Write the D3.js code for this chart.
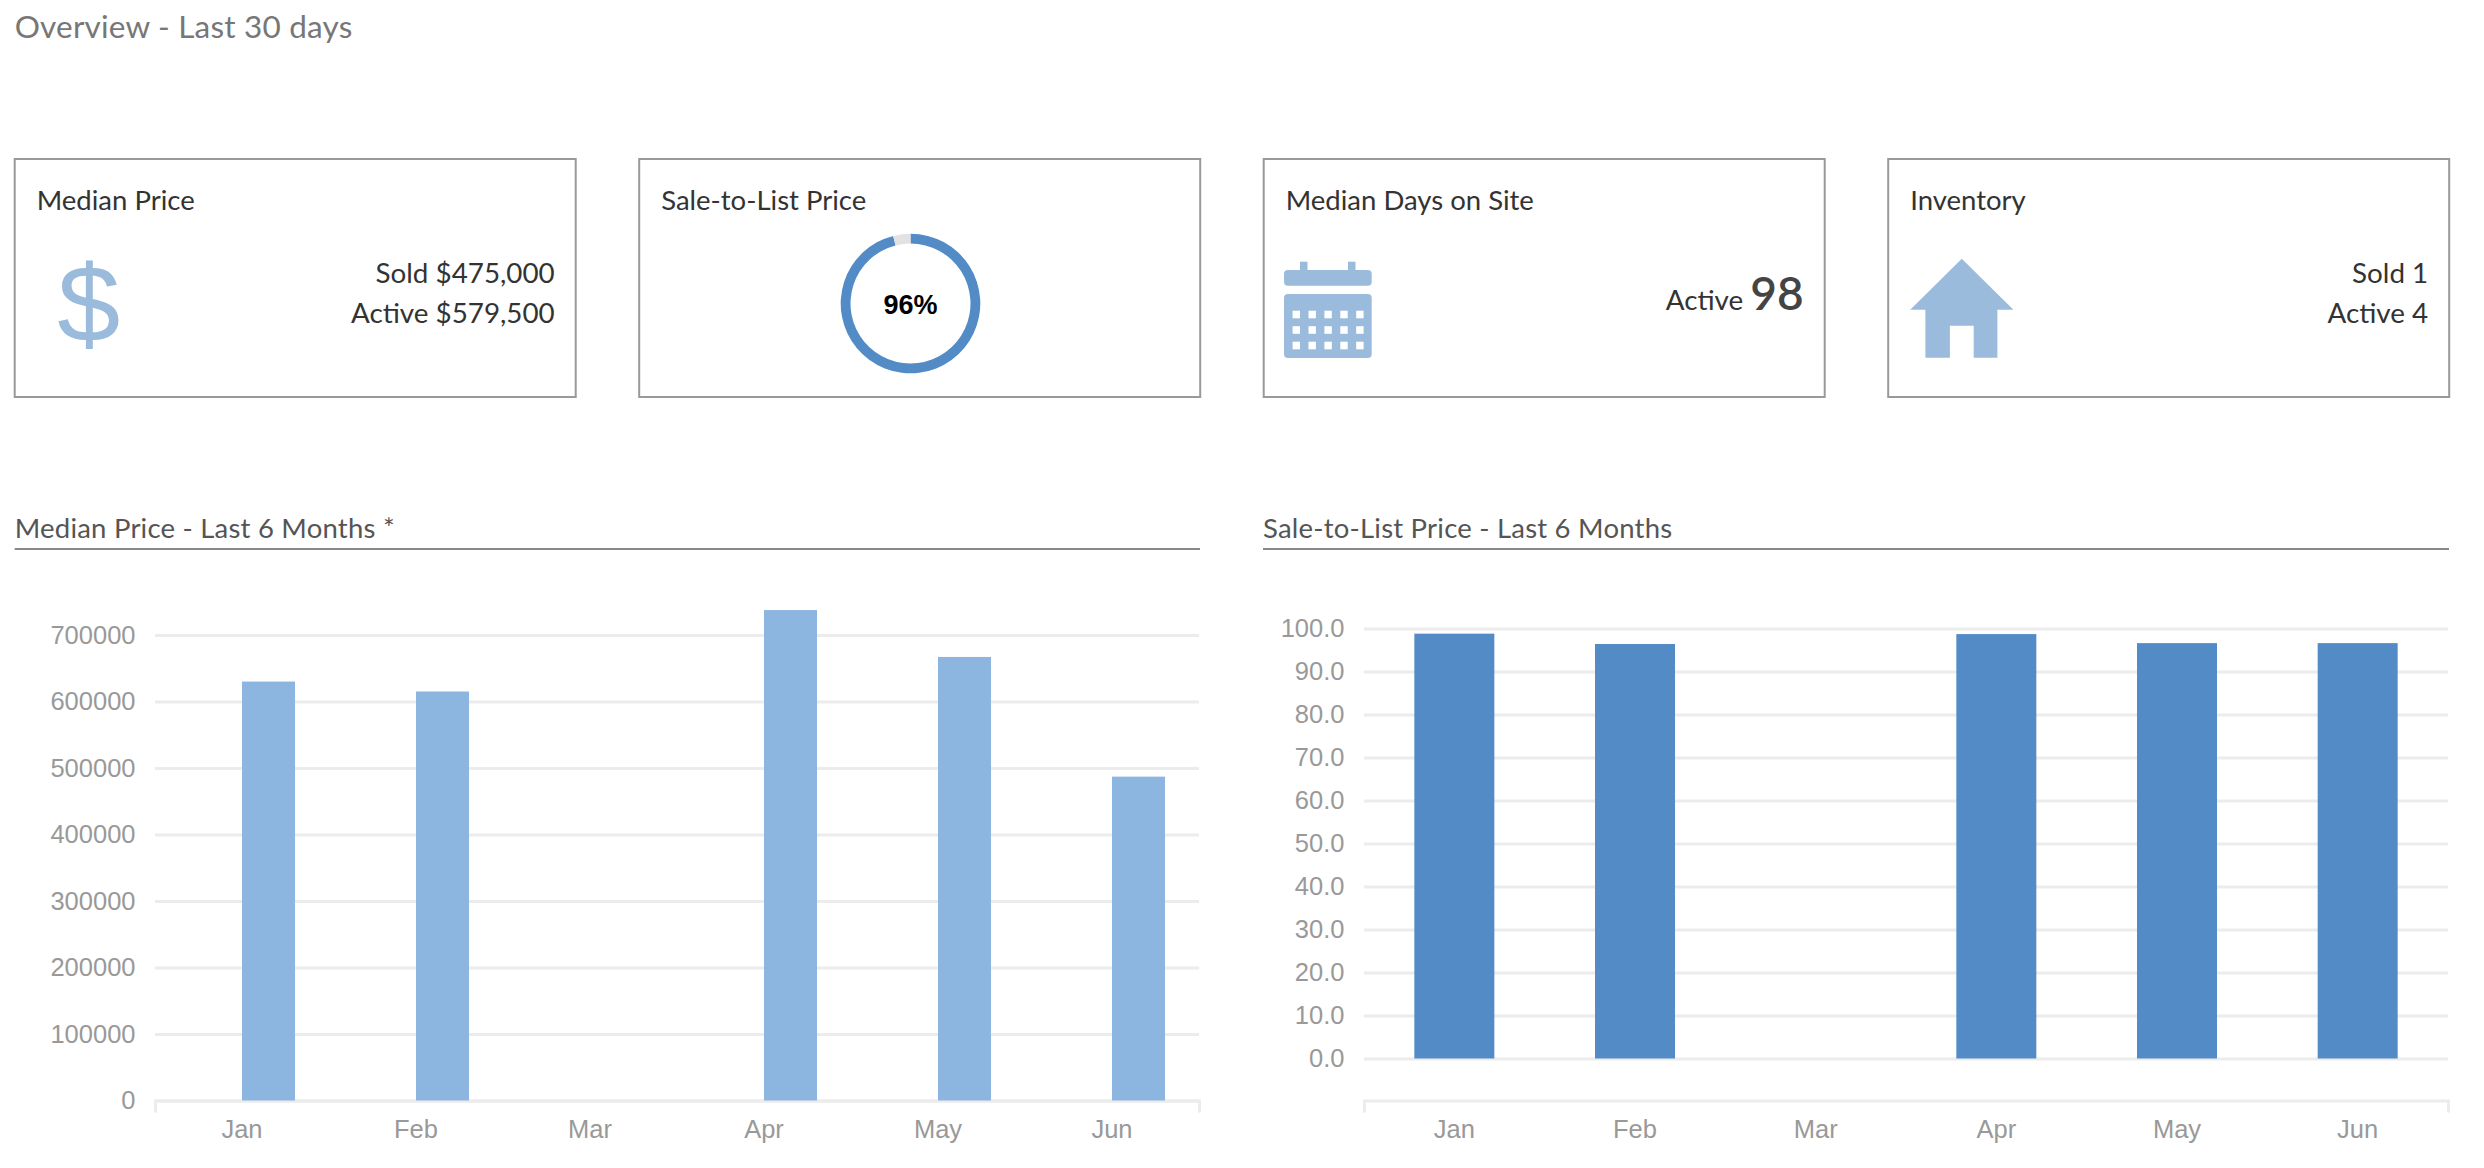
<!DOCTYPE html>
<html>
<head>
<meta charset="utf-8">
<script src="https://cdn.jsdelivr.net/npm/d3@7"></script>
<style>
    body { margin: 0; background: #fff; }
    svg { display: block; }
</style>
</head>
<body>
<svg id="dash" width="2484" height="1168"></svg>
<script>
// overview cards
const cardTitles = ['Median Price', 'Sale-to-List Price', 'Median Days on Site', 'Inventory'];
const medianSold = 475000;
const medianActive = 579500;
const saleToListPct = [96, 4];
const daysOnSiteActive = 98;
const inventorySold = 1;
const inventoryActive = 4;

// last 6 months
const months = ['Jan', 'Feb', 'Mar', 'Apr', 'May', 'Jun'];
const medianPrice = [630000, 615000, null, 737500, 667000, 487000];
const saleToList = [98.8, 96.4, null, 98.7, 96.6, 96.6];
const priceTicks = [0, 100000, 200000, 300000, 400000, 500000, 600000, 700000];
const ratioTicks = [0, 10, 20, 30, 40, 50, 60, 70, 80, 90, 100];

const LEFT = 14.7;
const CARD_W = 561;
const CARD_STEP = 624.5;
const CARD_TOP = 159;
const CARD_H = 238;
const ICON_BLUE = '#9bbbdd';
const TITLE_FONT = 'Lato, "Open Sans", sans-serif';
const AXIS_FONT = '"Liberation Sans", Arial, sans-serif';

let svg = d3.select('#dash');
let money = d3.format('$,');

svg.append('text')
    .attr('x', LEFT)
    .attr('y', 37.5)
    .attr('font-family', TITLE_FONT)
    .attr('font-size', 31.5)
    .attr('letter-spacing', 0.2)
    .attr('fill', '#777')
    .text('Overview - Last 30 days');

let cards = svg.selectAll('g.card')
    .data(cardTitles)
    .enter().append('g')
    .attr('class', 'card')
    .attr('transform', (d, i) => `translate(${LEFT + i * CARD_STEP},${CARD_TOP})`);

cards.append('rect')
    .attr('width', CARD_W)
    .attr('height', CARD_H)
    .attr('fill', 'none')
    .attr('stroke', '#999')
    .attr('stroke-width', 2);

cards.append('text')
    .attr('x', 22)
    .attr('y', 51)
    .attr('font-family', TITLE_FONT)
    .attr('font-size', 27.5)
    .attr('fill', '#333')
    .text(d => d);

function rightLines(card, lines) {
    card.selectAll('text.val')
        .data(lines)
        .enter().append('text')
        .attr('class', 'val')
        .attr('x', CARD_W - 21)
        .attr('y', (d, i) => 124 + i * 40)
        .attr('text-anchor', 'end')
        .attr('font-family', TITLE_FONT)
        .attr('font-size', 27.8)
        .attr('fill', '#333')
        .text(d => d);
}

// card 1 - dollar icon + prices
let card1 = d3.select(cards.nodes()[0]);
card1.append('text')
    .attr('x', 74)
    .attr('y', 183)
    .attr('text-anchor', 'middle')
    .attr('font-family', AXIS_FONT)
    .attr('font-size', 110)
    .attr('fill', ICON_BLUE)
    .attr('transform', 'translate(74,0) scale(1.03,1) translate(-74,0)')
    .text('$');
rightLines(card1, ['Sold ' + money(medianSold), 'Active ' + money(medianActive)]);

// card 2 - donut
let card2 = d3.select(cards.nodes()[1]);
let pie = d3.pie().sort(null)(saleToListPct);
let arc = d3.arc().innerRadius(60).outerRadius(69.8);
let donut = card2.append('g').attr('transform', 'translate(271.3,144.5)');
donut.selectAll('path')
    .data(pie)
    .enter().append('path')
    .attr('d', arc)
    .attr('fill', (d, i) => i === 0 ? '#528bc5' : '#e2e2e2');
donut.append('text')
    .attr('y', 10)
    .attr('text-anchor', 'middle')
    .attr('font-family', AXIS_FONT)
    .attr('font-weight', 'bold')
    .attr('font-size', 27)
    .attr('fill', '#000')
    .text(saleToListPct[0] + '%');

// card 3 - calendar
let card3 = d3.select(cards.nodes()[2]);
let cal = card3.append('g').attr('transform', 'translate(20.3,102.7)').attr('fill', ICON_BLUE);
cal.append('rect').attr('x', 16).attr('y', 0).attr('width', 7.5).attr('height', 12);
cal.append('rect').attr('x', 64).attr('y', 0).attr('width', 7.5).attr('height', 12);
cal.append('rect').attr('x', 0).attr('y', 8.3).attr('width', 87.7).attr('height', 15.7).attr('rx', 4);
cal.append('rect').attr('x', 0).attr('y', 32.3).attr('width', 87.7).attr('height', 64).attr('rx', 4);
for (let r = 0; r < 3; r++) {
    for (let c = 0; c < 5; c++) {
        cal.append('rect')
            .attr('x', 8.6 + c * 15.9)
            .attr('y', 49 + r * 15.5)
            .attr('width', 7.4)
            .attr('height', 7.6)
            .attr('fill', '#fff');
    }
}
let days = card3.append('text')
    .attr('x', CARD_W - 21)
    .attr('y', 150.5)
    .attr('text-anchor', 'end')
    .attr('font-family', TITLE_FONT)
    .attr('fill', '#444');
days.append('tspan').attr('font-size', 27.8).attr('fill', '#333').text('Active ');
days.append('tspan').attr('font-size', 46).attr('font-weight', 600).text(daysOnSiteActive);

// card 4 - house
let card4 = d3.select(cards.nodes()[3]);
card4.append('path')
    .attr('transform', 'translate(22,99.7)')
    .attr('fill', ICON_BLUE)
    .attr('d', 'M0,51 L51.6,0 L103.2,51 L87.2,51 L87.2,99 L63.5,99 L63.5,67 L39.7,67 L39.7,99 L15.2,99 L15.2,51 Z');
rightLines(card4, ['Sold ' + inventorySold, 'Active ' + inventoryActive]);

// bar charts
function barChart(opt) {
    let g = svg.append('g');

    g.append('text')
        .attr('x', opt.left)
        .attr('y', 537.5)
        .attr('font-family', TITLE_FONT)
        .attr('font-size', 27.5)
        .attr('letter-spacing', 0.22)
        .attr('fill', '#555')
        .text(opt.title);
    g.append('line')
        .attr('x1', opt.left).attr('x2', opt.right)
        .attr('y1', 549).attr('y2', 549)
        .attr('stroke', '#888')
        .attr('stroke-width', 2);

    let x = d3.scaleBand().domain(months).range([opt.x0, opt.x1]);
    let y = d3.scaleLinear().domain([0, opt.ticks[opt.ticks.length - 1]]).range([opt.yZero, opt.yTop]);

    let yAxis = g.append('g')
        .attr('transform', `translate(${opt.x0},0)`)
        .call(d3.axisLeft(y).tickValues(opt.ticks).tickFormat(opt.format)
            .tickSize(-(opt.x1 - opt.x0)).tickPadding(19.5));
    yAxis.select('.domain').remove();
    yAxis.selectAll('.tick line').attr('stroke', '#ececec').attr('stroke-width', 3);
    yAxis.selectAll('.tick text')
        .attr('font-family', AXIS_FONT)
        .attr('font-size', 25.5)
        .attr('fill', '#999');

    let xAxis = g.append('g')
        .attr('transform', 'translate(0,1100.5)')
        .call(d3.axisBottom(x).tickSizeInner(0).tickSizeOuter(12).tickPadding(19));
    xAxis.select('.domain').attr('stroke', '#ececec').attr('stroke-width', 3);
    xAxis.selectAll('.tick text')
        .attr('font-family', AXIS_FONT)
        .attr('font-size', 25.5)
        .attr('fill', '#999');

    let data = months.map((m, i) => ({month: m, value: opt.values[i]}))
        .filter(d => d.value != null);
    g.selectAll('rect.bar')
        .data(data)
        .enter().append('rect')
        .attr('class', 'bar')
        .attr('x', d => opt.barX(x, d.month))
        .attr('width', opt.barW)
        .attr('y', d => y(d.value))
        .attr('height', d => y(0) - y(d.value))
        .attr('fill', opt.color);
}

barChart({
    title: 'Median Price - Last 6 Months *',
    left: LEFT, right: 1200,
    x0: 155, x1: 1199,
    yZero: 1100.5, yTop: 635,
    ticks: priceTicks,
    format: d3.format('d'),
    values: medianPrice,
    color: '#8cb5e0',
    barW: 53,
    // bars sit right of the category centre (second slot of a grouped bar)
    barX: (x, m) => x(m) + x.bandwidth() / 2
});

barChart({
    title: 'Sale-to-List Price - Last 6 Months',
    left: 1263, right: 2449,
    x0: 1364, x1: 2448,
    yZero: 1058.5, yTop: 628.5,
    ticks: ratioTicks,
    format: d3.format('.1f'),
    values: saleToList,
    color: '#528bc5',
    barW: 80,
    barX: (x, m) => x(m) + x.bandwidth() / 2 - 40
});
</script>
</body>
</html>
